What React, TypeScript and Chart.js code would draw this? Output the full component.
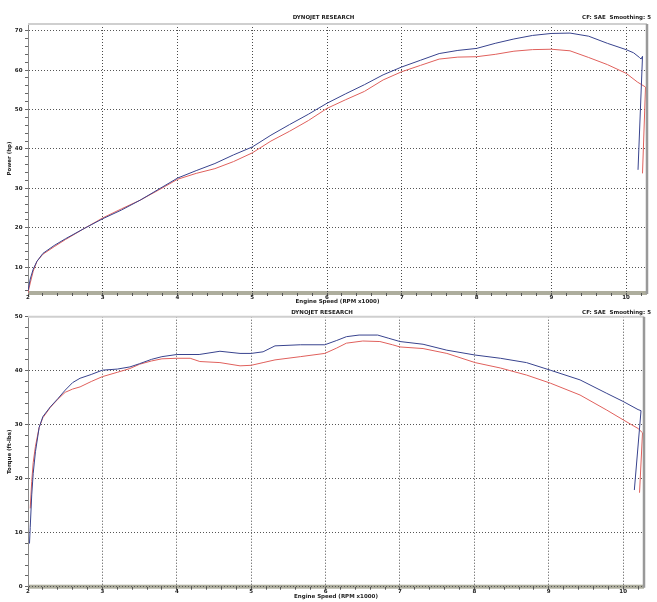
import { useEffect, useRef } from "react"
import { Chart, registerables } from "chart.js"

Chart.register(...registerables)

// run 1 (blue) / run 2 (red), engine speed in RPM x1000
const powerRpmBlue = [2.0, 2.03, 2.07, 2.12, 2.2, 2.35, 2.5, 2.75, 3.0, 3.25, 3.5, 3.75, 4.0, 4.25, 4.5, 4.75, 5.0, 5.25, 5.5, 5.75, 6.0, 6.25, 6.5, 6.75, 7.0, 7.25, 7.5, 7.75, 8.0, 8.25, 8.5, 8.75, 9.0, 9.25, 9.5, 9.75, 10.0, 10.1, 10.18, 10.2, 10.22, 10.16]
const powerBlue = [4.0, 7.0, 9.5, 11.5, 13.5, 15.5, 17.2, 19.8, 22.3, 24.5, 27.0, 29.8, 32.6, 34.5, 36.3, 38.5, 40.5, 43.5, 46.2, 48.8, 51.6, 54.0, 56.3, 58.8, 60.8, 62.5, 64.2, 65.0, 65.5, 66.8, 67.9, 68.8, 69.3, 69.4, 68.6, 66.8, 65.2, 64.4, 63.2, 62.8, 63.5, 34.7]
const powerRpmRed = [2.0, 2.03, 2.07, 2.12, 2.2, 2.35, 2.5, 2.75, 3.0, 3.25, 3.5, 3.75, 4.0, 4.25, 4.5, 4.75, 5.0, 5.25, 5.5, 5.75, 6.0, 6.25, 6.5, 6.75, 7.0, 7.25, 7.5, 7.75, 8.0, 8.25, 8.5, 8.75, 9.0, 9.25, 9.5, 9.75, 10.0, 10.15, 10.26, 10.22]
const powerRed = [3.5, 6.0, 9.0, 11.5, 13.3, 15.2, 17.0, 19.8, 22.5, 24.8, 27.0, 29.6, 32.3, 33.8, 35.0, 36.8, 39.0, 42.0, 44.5, 47.2, 50.3, 52.5, 54.6, 57.5, 59.6, 61.2, 62.8, 63.3, 63.4, 64.0, 64.8, 65.2, 65.3, 64.9, 63.2, 61.4, 59.2, 57.0, 55.7, 33.8]

const torqueRpmBlue = [2.02, 2.03, 2.05, 2.07, 2.1, 2.15, 2.2, 2.3, 2.4, 2.5, 2.6, 2.7, 2.85, 3.0, 3.2, 3.37, 3.5, 3.66, 3.8, 4.0, 4.3, 4.58, 4.85, 5.0, 5.16, 5.32, 5.66, 5.99, 6.15, 6.28, 6.45, 6.7, 6.85, 7.0, 7.31, 7.63, 8.01, 8.35, 8.7, 9.02, 9.42, 9.78, 10.0, 10.2, 10.24, 10.15]
const torqueBlue = [8.0, 11.0, 17.0, 21.0, 25.0, 29.5, 31.5, 33.3, 34.8, 36.4, 37.8, 38.6, 39.3, 40.1, 40.3, 40.7, 41.3, 42.1, 42.6, 43.0, 43.0, 43.6, 43.2, 43.2, 43.5, 44.6, 44.8, 44.8, 45.6, 46.3, 46.6, 46.6, 46.0, 45.4, 44.9, 43.8, 42.9, 42.3, 41.5, 40.1, 38.3, 35.8, 34.3, 32.8, 32.6, 17.9]
const torqueRpmRed = [2.03, 2.05, 2.07, 2.1, 2.15, 2.2, 2.3, 2.4, 2.5, 2.6, 2.7, 2.85, 3.0, 3.2, 3.37, 3.5, 3.66, 3.8, 4.0, 4.18, 4.31, 4.58, 4.85, 5.0, 5.16, 5.32, 5.66, 5.99, 6.15, 6.28, 6.5, 6.73, 6.9, 7.0, 7.31, 7.63, 8.01, 8.35, 8.7, 9.02, 9.42, 9.78, 10.0, 10.2, 10.26, 10.22]
const torqueRed = [14.5, 19.5, 23.0, 26.0, 29.5, 31.3, 33.2, 34.7, 36.0, 36.6, 37.0, 38.0, 38.9, 39.7, 40.4, 41.2, 41.8, 42.2, 42.3, 42.3, 41.7, 41.5, 40.9, 41.0, 41.5, 42.0, 42.6, 43.2, 44.2, 45.1, 45.5, 45.4, 44.8, 44.4, 44.1, 43.2, 41.5, 40.5, 39.2, 37.7, 35.5, 32.7, 30.9, 29.3, 28.5, 17.4]

const rpmTickLabels = [2, 3, 4, 5, 6, 7, 8, 9, 10]
const powerTickLabels = [10, 20, 30, 40, 50, 60, 70]
const torqueTickLabels = [0, 10, 20, 30, 40, 50]

const BLUE = "#38438e"
const RED = "#e0605c"
const FONT = "DejaVu Sans"

const round = (v: number) => Math.round(v * 1000) / 1000

// minor tick positions
function steps(from: number, to: number, step: number) {
  const out: number[] = []
  for (let v = Math.ceil(from / step) * step; v <= to + 1e-9; v += step) out.push(round(v))
  return out
}

const framePlugin = {
  id: "frame",
  beforeDraw(chart: Chart) {
    const { ctx, chartArea } = chart
    ctx.save()
    ctx.fillStyle = "#adad9d"
    ctx.fillRect(chartArea.left, chartArea.bottom - 2, chartArea.right - chartArea.left, 4)
    ctx.restore()
  },
  afterDraw(chart: Chart, _args: unknown, opts: any) {
    const { ctx, chartArea } = chart
    ctx.save()
    ctx.strokeStyle = "#cfcfcf"
    ctx.lineWidth = 2
    ctx.beginPath()
    ctx.moveTo(chartArea.left, chartArea.top)
    ctx.lineTo(chartArea.right, chartArea.top)
    ctx.stroke()
    ctx.strokeStyle = "#999999"
    ctx.lineWidth = 2.5
    ctx.beginPath()
    ctx.moveTo(chartArea.right, chartArea.top)
    ctx.lineTo(chartArea.right, chartArea.bottom + 1)
    ctx.stroke()
    ctx.fillStyle = "#222"
    ctx.font = `bold 5.5px "${FONT}"`
    ctx.textAlign = "right"
    ctx.textBaseline = "middle"
    ctx.fillText("CF: SAE  Smoothing: 5", 651, chartArea.top - opts.headerOffset)
    ctx.restore()
  },
}

interface DynoChartProps {
  yTitle: string
  yMin: number
  yMax: number
  yLabels: number[]
  series: { rpm: number[]; values: number[]; color: string }[]
  height: number
  padRight: number
  titlePad: { top: number; bottom: number }
  xAxisHeight: number
  xTitlePad: number
}

function DynoChart({ yTitle, yMin, yMax, yLabels, series, height, padRight, titlePad, xAxisHeight, xTitlePad }: DynoChartProps) {
  const chartRef = useRef<HTMLCanvasElement>(null)
  const chartInstance = useRef<Chart | null>(null)

  useEffect(() => {
    if (!chartRef.current) return
    if (chartInstance.current) chartInstance.current.destroy()

    const xMinor = steps(2, 10.2, 0.2)
    const yMinor = steps(yMin, yMax, 2)
    const tickFont = { family: FONT, size: 5.5, weight: "bold" as const }
    const dotted = [1, 2]

    chartInstance.current = new Chart(chartRef.current, {
      type: "line",
      data: {
        datasets: series.map((s) => ({
          data: s.rpm.map((x, i) => ({ x, y: s.values[i] })),
          borderColor: s.color,
          borderWidth: 1,
          pointRadius: 0,
          tension: 0,
        })),
      },
      options: {
        animation: false,
        responsive: true,
        maintainAspectRatio: false,
        layout: { padding: { right: padRight } },
        plugins: {
          legend: { display: false },
          tooltip: { enabled: false },
          title: {
            display: true,
            text: "DYNOJET RESEARCH",
            color: "#222",
            font: { family: FONT, size: 5.5, weight: "bold" },
            padding: titlePad,
          },
          // @ts-ignore
          frame: { headerOffset: titlePad.bottom + 3.3 },
        },
        scales: {
          x: {
            type: "linear",
            min: 2,
            max: 10.28,
            afterBuildTicks: (axis) => {
              axis.ticks = xMinor.map((value) => ({ value }))
            },
            afterFit: (scale) => {
              scale.height = xAxisHeight
            },
            ticks: {
              autoSkip: false,
              maxRotation: 0,
              padding: -1.5,
              color: "#222",
              font: tickFont,
              callback: (v) => (rpmTickLabels.includes(round(Number(v))) ? String(round(Number(v))) : ""),
            },
            grid: {
              color: (c) => (c.tick && rpmTickLabels.includes(c.tick.value) ? "#4a4a4a" : "transparent"),
              tickColor: "#555",
              tickLength: 3,
              tickWidth: 1,
            },
            border: { display: false, dash: dotted },
            title: {
              display: true,
              text: "Engine Speed (RPM x1000)",
              color: "#222",
              font: { family: FONT, size: 5.5, weight: "bold" },
              padding: { top: 0, bottom: xTitlePad },
            },
          },
          y: {
            min: yMin,
            max: yMax,
            afterBuildTicks: (axis) => {
              axis.ticks = yMinor.map((value) => ({ value }))
            },
            afterFit: (scale) => {
              scale.width = 28
            },
            ticks: {
              autoSkip: false,
              padding: 2.5,
              color: "#222",
              font: tickFont,
              callback: (v) => (yLabels.includes(Number(v)) ? String(v) : ""),
            },
            grid: {
              color: (c) => (c.tick && yLabels.includes(c.tick.value) ? "#555" : "transparent"),
              tickColor: "#666",
              tickLength: 3,
            },
            border: { display: true, color: "#8a8a8a", width: 1, dash: dotted },
            title: {
              display: true,
              text: yTitle,
              color: "#222",
              font: { family: FONT, size: 5.5, weight: "bold" },
              padding: { top: 6.7, bottom: 0 },
            },
          },
        },
      },
      plugins: [framePlugin],
    })

    return () => {
      if (chartInstance.current) {
        chartInstance.current.destroy()
        chartInstance.current = null
      }
    }
  }, [])

  return (
    <div style={{ position: "relative", width: 657, height }}>
      <canvas ref={chartRef} />
    </div>
  )
}

export default function App() {
  return (
    <div style={{ position: "absolute", left: 0, top: 0, width: 657, height: 602, background: "#fff" }}>
      <DynoChart
        yTitle="Power (hp)"
        yMin={3.45}
        yMax={71.7}
        yLabels={powerTickLabels}
        series={[
          { rpm: powerRpmBlue, values: powerBlue, color: BLUE },
          { rpm: powerRpmRed, values: powerRed, color: RED },
        ]}
        height={305}
        padRight={10}
        titlePad={{ top: 14, bottom: 3.4 }}
        xAxisHeight={12}
        xTitlePad={0}
      />
      <DynoChart
        yTitle="Torque (ft-lbs)"
        yMin={0}
        yMax={50}
        yLabels={torqueTickLabels}
        series={[
          { rpm: torqueRpmBlue, values: torqueBlue, color: BLUE },
          { rpm: torqueRpmRed, values: torqueRed, color: RED },
        ]}
        height={297}
        padRight={13}
        titlePad={{ top: 4.4, bottom: 0.7 }}
        xAxisHeight={15.3}
        xTitlePad={2}
      />
    </div>
  )
}
